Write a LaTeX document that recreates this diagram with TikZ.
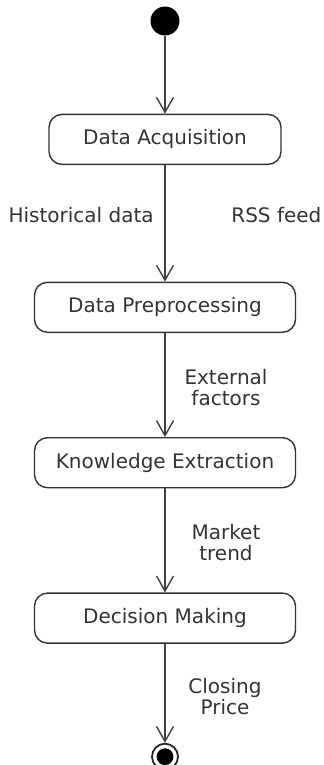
\documentclass[tikz,border=0pt]{standalone}
\usepackage{fontspec}
\setmainfont{DejaVu Sans}
\usepackage{tikz}
\usetikzlibrary{arrows.meta, positioning}
\colorlet{colorLine}{black!75}
\colorlet{colorText}{black!80}
\tikzset{
  startstate/.style={circle, fill=black, minimum size=14.5pt, inner sep=0pt},
  endstate/.style={circle, draw=black!85, line width=0.9pt, minimum size=13pt, inner sep=0pt},
  activity/.style={draw=black!80, rounded corners=6.5pt, minimum height=25pt, minimum width=130.5pt, text=colorText},
  flowlabel/.style={text=colorText, align=center},
}

\begin{document}
\begin{tikzpicture}[>={Straight Barb[length=7.5pt, width=8.5pt]}, line width=0.7pt, font=\fontsize{10}{10.5}\selectfont]
\useasboundingbox (-82.5pt,10.5pt) rectangle (79pt,-372pt);
\node[startstate] (start) {};
\node[activity, below=38.75pt of start, minimum width=116pt] (acq) {Data Acquisition};
\node[activity, below=58.25pt of acq] (pre) {Data Preprocessing};
\node[activity, below=52pt of pre] (know) {Knowledge Extraction};
\node[activity, below=52pt of know] (dec) {Decision Making};
\node[endstate, below=49.5pt of dec] (stop) {};
\fill[black] (stop.center) circle (4.2pt);
\draw [->, colorLine] (start) -- (acq);
\draw [->, colorLine] (acq) -- node[pos=.43, left=2pt, flowlabel]{Historical data} node[pos=.43, right=29.5pt, flowlabel]{RSS feed} (pre);
\draw [->, colorLine] (pre) -- node[pos=.52, xshift=30.5pt, flowlabel]{External\\factors} (know);
\draw [->, colorLine] (know) -- node[pos=.52, xshift=30.5pt, flowlabel]{Market\\trend} (dec);
\draw [->, colorLine] (dec) -- node[pos=.53, xshift=30pt, flowlabel]{Closing\\Price} (stop);
\end{tikzpicture}
\end{document}
